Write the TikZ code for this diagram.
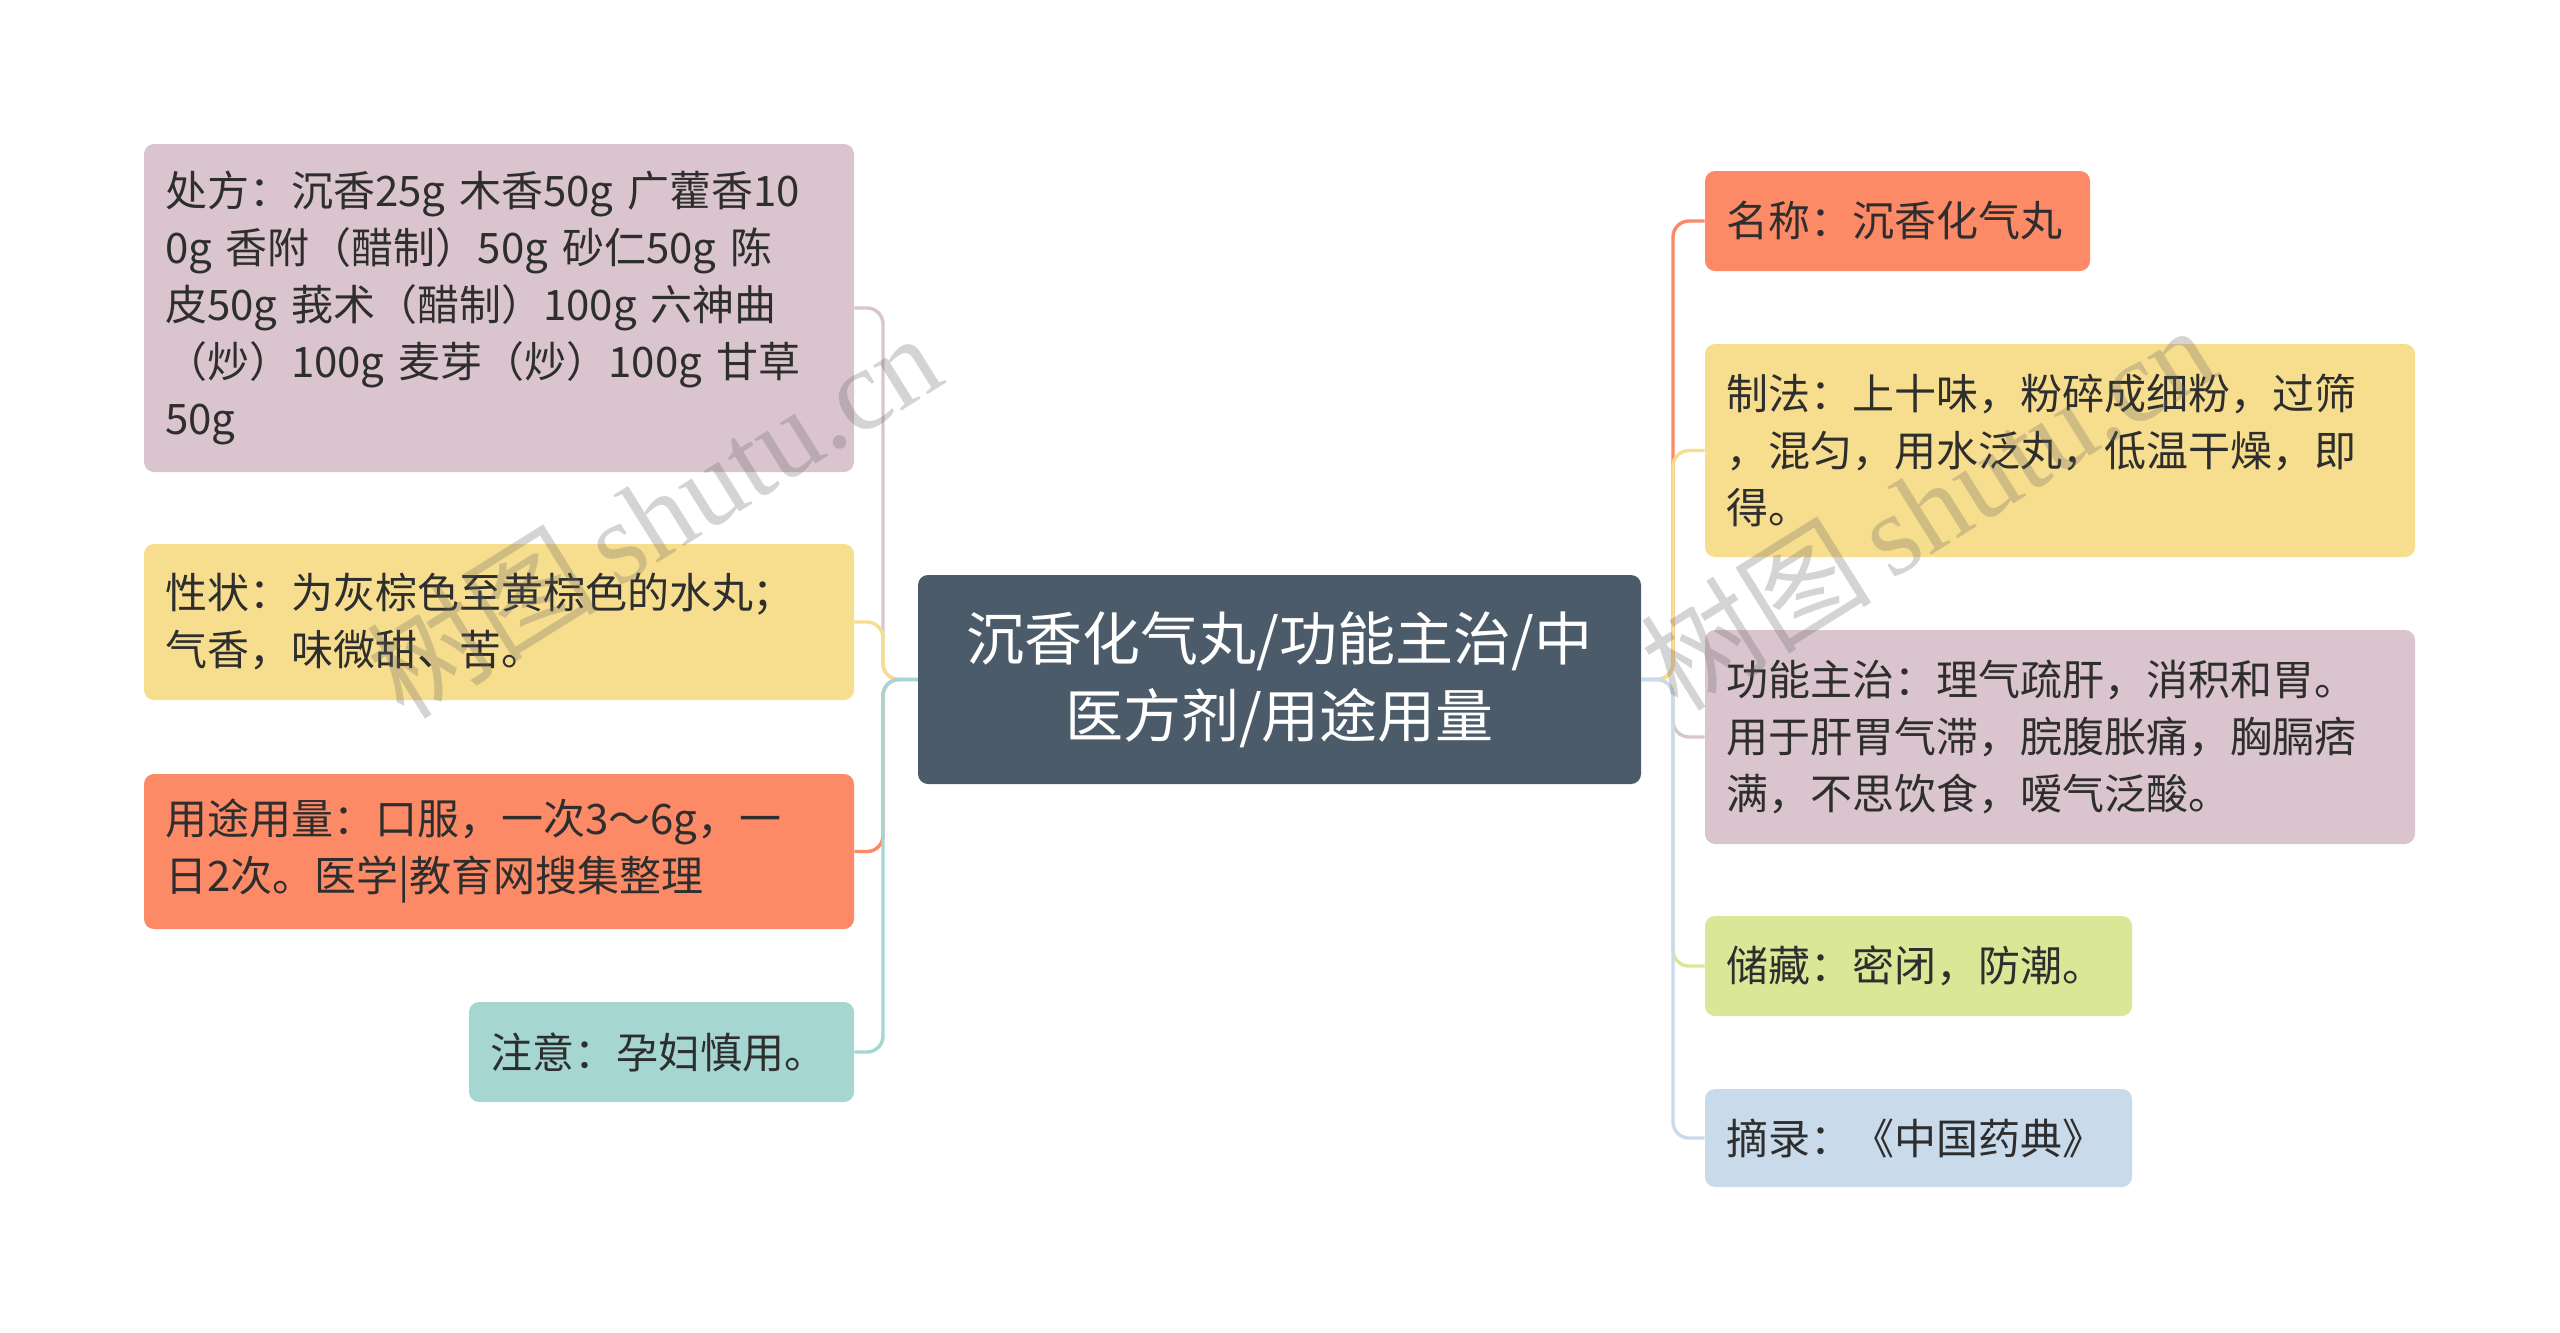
\documentclass[tikz,border=0pt]{standalone}
\usepackage{fontspec}
\setmainfont{Noto Sans CJK SC}
\newfontfamily\wmfont{Liberation Serif}
\newfontfamily\wmcjk{Noto Sans CJK SC}
\definecolor{cPink}{HTML}{DAC5CF}
\definecolor{cYellow}{HTML}{F7DE8E}
\definecolor{cOrange}{HTML}{FC8A66}
\definecolor{cTeal}{HTML}{A5D6D1}
\definecolor{cGreen}{HTML}{D9E796}
\definecolor{cBlue}{HTML}{C9DAEA}
\definecolor{cCenter}{HTML}{4C5B69}
\definecolor{txt}{HTML}{2E2E2E}
\begin{document}
\begin{tikzpicture}[x=0.5pt,y=-0.5pt,
  box/.style={rounded corners=5pt, inner sep=0pt, text=txt, align=left,
    font=\fontsize{21}{28.5}\selectfont},
  wide/.style={minimum width=355pt, text width=334pt},
  narrow/.style={minimum width=192.5pt, text width=171.5pt},
  mid/.style={minimum width=213.5pt, text width=192.5pt},
  link/.style={line width=1.7pt, rounded corners=8pt},
  wm/.style={text=black!60, text opacity=0.28, font=\fontsize{58}{58}\selectfont}]
\useasboundingbox (0,0) rectangle (2560,1333);
% center
\node[rounded corners=5pt, fill=cCenter, text=white, align=center, inner sep=0pt,
  minimum width=361.5pt, minimum height=104.5pt,
  font=\fontsize{29}{38.5}\selectfont] (ct) at (1279.5,679.5)
  {沉香化气丸/功能主治/中\\医方剂/用途用量};
% left children
\node[box, wide, fill=cPink, minimum height=164pt] (cf) at (499,308)
  {处方：沉香25g 木香50g 广藿香10\\0g 香附（醋制）50g 砂仁50g 陈\\皮50g 莪术（醋制）100g 六神曲\\（炒）100g 麦芽（炒）100g 甘草\\50g};
\node[box, wide, fill=cYellow, minimum height=78pt] (xz) at (499,622)
  {性状：为灰棕色至黄棕色的水丸；\\气香，味微甜、苦。};
\node[box, wide, fill=cOrange, minimum height=77.5pt] (yt) at (499,851.5)
  {用途用量：口服，一次3～6g，一\\日2次。医学|教育网搜集整理};
\node[box, narrow, fill=cTeal, minimum height=50pt] (zy) at (661.5,1052)
  {注意：孕妇慎用。};
% right children
\node[box, narrow, fill=cOrange, minimum height=50pt] (mc) at (1897.5,221)
  {名称：沉香化气丸};
\node[box, wide, fill=cYellow, minimum height=106.5pt] (zf) at (2060,450.5)
  {制法：上十味，粉碎成细粉，过筛\\，混匀，用水泛丸，低温干燥，即\\得。};
\node[box, wide, fill=cPink, minimum height=107pt] (gn) at (2060,737)
  {功能主治：理气疏肝，消积和胃。\\用于肝胃气滞，脘腹胀痛，胸膈痞\\满，不思饮食，嗳气泛酸。};
\node[box, mid, fill=cGreen, minimum height=50pt] (cc) at (1918.5,966)
  {储藏：密闭，防潮。};
\node[box, mid, fill=cBlue, minimum height=49pt] (zl) at (1918.5,1138)
  {摘录：《中国药典》};
% trunks
\coordinate (tl) at (883,679.5);
\coordinate (tr) at (1673,679.5);
% left connectors
\draw[link, cPink] (ct.west) -- (tl) |- (cf.east);
\draw[link, cYellow] (ct.west) -- (tl) |- (xz.east);
\draw[link, cOrange] (ct.west) -- (tl) |- (yt.east);
\draw[link, cTeal] (ct.west) -- (tl) |- (zy.east);
% right connectors
\draw[link, cOrange] (ct.east) -- (tr) |- (mc.west);
\draw[link, cYellow] (ct.east) -- (tr) |- (zf.west);
\draw[link, cPink] (ct.east) -- (tr) |- (gn.west);
\draw[link, cGreen] (ct.east) -- (tr) |- (cc.west);
\draw[link, cBlue] (ct.east) -- (tr) |- (zl.west);
% watermarks
\node[wm, rotate=32] (wm1) at (653,514) {\wmcjk 树图\,\wmfont shutu.cn};
\node[wm, rotate=32] (wm2) at (1927,506) {\wmcjk 树图\,\wmfont shutu.cn};
\end{tikzpicture}
\end{document}
